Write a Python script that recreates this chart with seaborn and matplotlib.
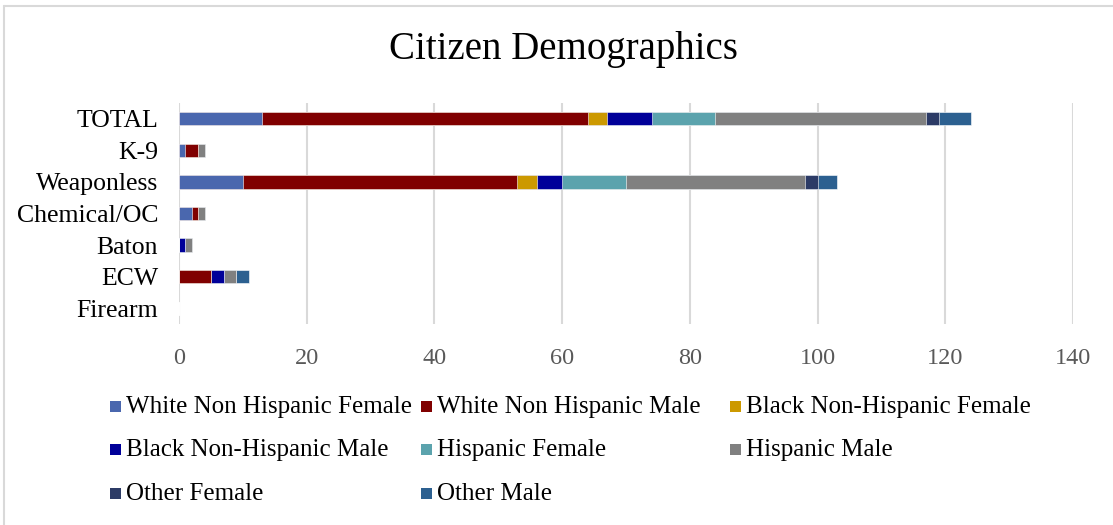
import numpy as np
import pandas as pd
import seaborn as sns
import matplotlib
matplotlib.use("Agg")
import matplotlib.pyplot as plt
from matplotlib.patches import Rectangle
from matplotlib.lines import Line2D

# Force types, listed top to bottom
categories = ["TOTAL", "K-9", "Weaponless", "Chemical/OC", "Baton", "ECW", "Firearm"]

# Counts per demographic group for each force type
white_nh_female = [13, 1, 10, 2, 0, 0, 0]
white_nh_male = [51, 2, 43, 1, 0, 5, 0]
black_nh_female = [3, 0, 3, 0, 0, 0, 0]
black_nh_male = [7, 0, 4, 0, 1, 2, 0]
hispanic_female = [10, 0, 10, 0, 0, 0, 0]
hispanic_male = [33, 1, 28, 1, 1, 2, 0]
other_female = [2, 0, 2, 0, 0, 0, 0]
other_male = [5, 0, 3, 0, 0, 2, 0]

series_names = [
    "White Non Hispanic Female", "White Non Hispanic Male", "Black Non-Hispanic Female",
    "Black Non-Hispanic Male", "Hispanic Female", "Hispanic Male",
    "Other Female", "Other Male",
]
series_values = [
    white_nh_female, white_nh_male, black_nh_female, black_nh_male,
    hispanic_female, hispanic_male, other_female, other_male,
]
colors = ["#4A67AE", "#800000", "#CC9900", "#000099",
          "#5BA3AD", "#808080", "#2C3B66", "#2C6090"]

x_ticks = [0, 20, 40, 60, 80, 100, 120, 140]

sns.set_theme(style="white")
plt.rcParams["font.family"] = ["Liberation Serif", "DejaVu Serif"]

# Long-form table with running totals so each segment can be layered
rows = []
for name, vals in zip(series_names, series_values):
    for cat, v in zip(categories, vals):
        rows.append({"category": cat, "series": name, "value": v})
df = pd.DataFrame(rows)
df["cum"] = df.groupby("category")["value"].cumsum()

fig = plt.figure(figsize=(11.13, 5.25), dpi=100)
ax = fig.add_axes([179 / 1113, 1 - 324 / 525, (1073 - 179) / 1113, (324 - 103) / 525])

# Draw from the outermost cumulative layer inward so each segment shows
for name, color in reversed(list(zip(series_names, colors))):
    sub = df[df["series"] == name]
    sns.barplot(data=sub, x="cum", y="category", order=categories, color=color,
                orient="h", width=0.42, saturation=1, edgecolor="#ffffff",
                linewidth=0.4, ax=ax)

ax.set_xlim(0, 140)
ax.set_xticks(x_ticks)
ax.set_xticklabels([str(t) for t in x_ticks], fontsize=17.5, color="#595959")
ax.tick_params(axis="x", length=0, pad=17)
ax.tick_params(axis="y", length=0, pad=15, labelsize=18.5, labelcolor="#000000")
ax.set_xlabel("")
ax.set_ylabel("")
ax.grid(axis="x", color="#d9d9d9", linewidth=1.5)
ax.set_axisbelow(True)
for s in ax.spines.values():
    s.set_visible(False)

fig.text(563 / 1113, 1 - 49 / 525, "Citizen Demographics", ha="center", va="center",
         fontsize=28, color="#000000")

# Legend laid out in three fixed-width columns
col_x = [110, 421, 730]
row_y = [407, 450, 494]
for i, (name, color) in enumerate(zip(series_names, colors)):
    r, c = divmod(i, 3)
    x0, y0 = col_x[c], row_y[r]
    fig.patches.append(Rectangle((x0 / 1113, 1 - (y0 + 5) / 525), 11 / 1113, 11 / 525,
                                 transform=fig.transFigure, facecolor=color,
                                 edgecolor="none"))
    fig.text((x0 + 16) / 1113, 1 - y0 / 525, name, ha="left", va="center",
             fontsize=18, color="#000000")

# Chart frame
fig.add_artist(Line2D([4 / 1113, 4 / 1113], [0, 1 - 6 / 525], transform=fig.transFigure,
                      color="#d9d9d9", linewidth=1.5))
fig.add_artist(Line2D([4 / 1113, 1], [1 - 6 / 525, 1 - 6 / 525], transform=fig.transFigure,
                      color="#d9d9d9", linewidth=1.5))

fig.savefig("out.png", dpi=100, facecolor="white")
